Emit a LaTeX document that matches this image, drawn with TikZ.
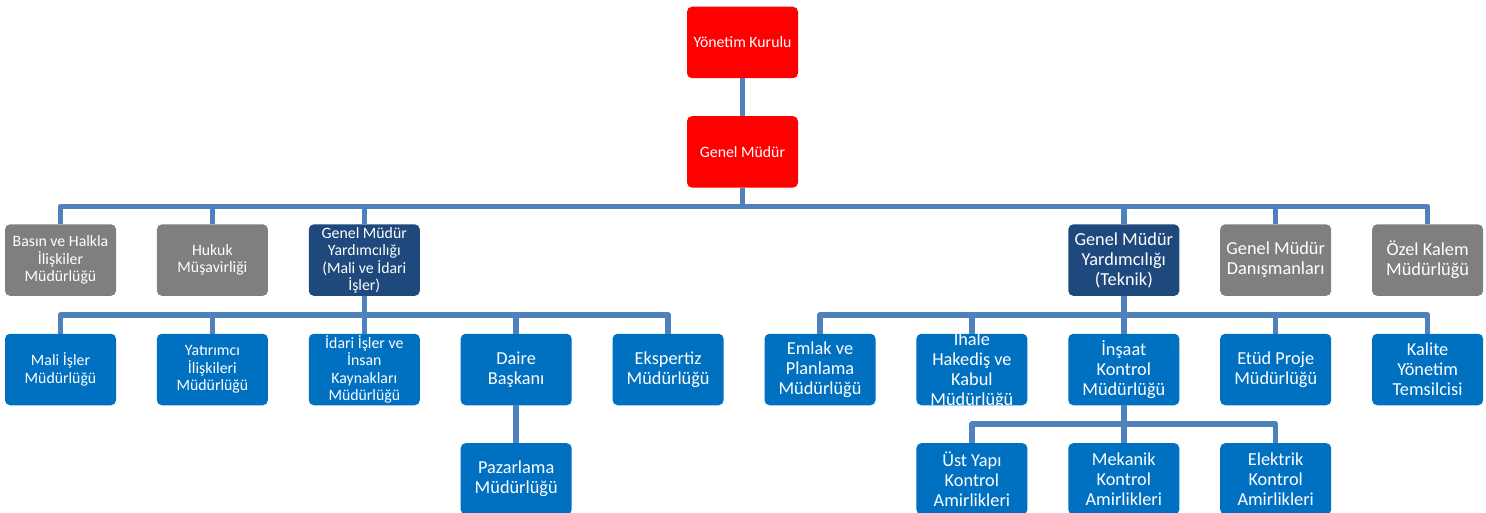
\documentclass[tikz,border=0pt]{standalone}
\usepackage{fontspec}
\setmainfont{Carlito}
\usetikzlibrary{positioning}

\definecolor{boardred}{HTML}{FF0000}
\definecolor{deputynavy}{HTML}{1F497D}
\definecolor{staffgray}{HTML}{7F7F7F}
\definecolor{unitblue}{HTML}{0070C0}
\definecolor{linkblue}{HTML}{4F81BD}

\begin{document}
\begin{tikzpicture}[x=1pt, y=1pt, node distance=37.5pt and 40.5pt,
    every node/.style={minimum width=111pt, minimum height=71.5pt, inner sep=1pt, align=center, rounded corners=5pt, text=white},
    small/.style={font=\fontsize{15.8}{17.5}\selectfont},
    big/.style={font=\fontsize{18.3}{20}\selectfont},
    board/.style={fill=boardred, small},
    deputy/.style={fill=deputynavy},
    staff/.style={fill=staffgray},
    unit/.style={fill=unitblue},
    link/.style={draw=linkblue, line width=5.5pt, line join=round}]

\useasboundingbox (0,0) rectangle (1486,512);

% Board and general manager
\node[board] (yk) at (742.5,469.5) {Yönetim Kurulu};
\node[board, below=of yk] (gm) {Genel Müdür};

% Units (second level)
\node[unit, small] (mali) at (60.5,142.5) {Mali İşler\\Müdürlüğü};
\node[unit, small, right=of mali] (yatirimci) {Yatırımcı\\İlişkileri\\Müdürlüğü};
\node[unit, small, right=of yatirimci] (idari) {İdari İşler ve\\İnsan\\Kaynakları\\Müdürlüğü};
\node[unit, big, right=of idari] (daire) {Daire\\Başkanı};
\node[unit, big, right=of daire] (ekspertiz) {Ekspertiz\\Müdürlüğü};
\node[unit, big, right=of ekspertiz] (emlak) {Emlak ve\\Planlama\\Müdürlüğü};
\node[unit, big, inner ysep=-6pt, right=of emlak] (ihale) {İhale\\Hakediş ve\\Kabul\\Müdürlüğü};
\node[unit, big, right=of ihale] (insaat) {İnşaat\\Kontrol\\Müdürlüğü};
\node[unit, big, right=of insaat] (etud) {Etüd Proje\\Müdürlüğü};
\node[unit, big, right=of etud] (kalite) {Kalite\\Yönetim\\Temsilcisi};

% Deputies and staff (first level)
\node[staff, small, above=of mali] (basin) {Basın ve Halkla\\İlişkiler\\Müdürlüğü};
\node[staff, small, above=of yatirimci] (hukuk) {Hukuk\\Müşavirliği};
\node[deputy, small, above=of idari] (gmymali) {Genel Müdür\\Yardımcılığı\\(Mali ve İdari\\İşler)};
\node[deputy, big, above=of insaat] (gmyteknik) {Genel Müdür\\Yardımcılığı\\(Teknik)};
\node[staff, big, above=of etud] (danisman) {Genel Müdür\\Danışmanları};
\node[staff, big, above=of kalite] (ozel) {Özel Kalem\\Müdürlüğü};

% Third level
\node[unit, big, below=of daire] (pazarlama) {Pazarlama\\Müdürlüğü};
\node[unit, big, below=of ihale] (ustyapi) {Üst Yapı\\Kontrol\\Amirlikleri};
\node[unit, big, below=of insaat] (mekanik) {Mekanik\\Kontrol\\Amirlikleri};
\node[unit, big, below=of etud] (elektrik) {Elektrik\\Kontrol\\Amirlikleri};

% board to general manager
\draw[link] (yk) -- (gm);

% general manager to first level
\draw[link] (gm.south) -- ++(0,-18.75) -| (basin.north);
\draw[link] (gm.south) -- ++(0,-18.75) -| (hukuk.north);
\draw[link] (gm.south) -- ++(0,-18.75) -| (gmymali.north);
\draw[link] (gm.south) -- ++(0,-18.75) -| (gmyteknik.north);
\draw[link] (gm.south) -- ++(0,-18.75) -| (danisman.north);
\draw[link] (gm.south) -- ++(0,-18.75) -| (ozel.north);

% deputy (mali ve idari) to units
\draw[link] (gmymali.south) -- ++(0,-18.75) -| (mali.north);
\draw[link] (gmymali.south) -- ++(0,-18.75) -| (yatirimci.north);
\draw[link] (gmymali.south) -- ++(0,-18.75) -| (idari.north);
\draw[link] (gmymali.south) -- ++(0,-18.75) -| (daire.north);
\draw[link] (gmymali.south) -- ++(0,-18.75) -| (ekspertiz.north);

% deputy (teknik) to units
\draw[link] (gmyteknik.south) -- ++(0,-18.75) -| (emlak.north);
\draw[link] (gmyteknik.south) -- ++(0,-18.75) -| (ihale.north);
\draw[link] (gmyteknik.south) -- ++(0,-18.75) -| (insaat.north);
\draw[link] (gmyteknik.south) -- ++(0,-18.75) -| (etud.north);
\draw[link] (gmyteknik.south) -- ++(0,-18.75) -| (kalite.north);

% third level
\draw[link] (daire) -- (pazarlama);
\draw[link] (insaat.south) -- ++(0,-18.75) -| (ustyapi.north);
\draw[link] (insaat.south) -- ++(0,-18.75) -| (mekanik.north);
\draw[link] (insaat.south) -- ++(0,-18.75) -| (elektrik.north);

\end{tikzpicture}
\end{document}
